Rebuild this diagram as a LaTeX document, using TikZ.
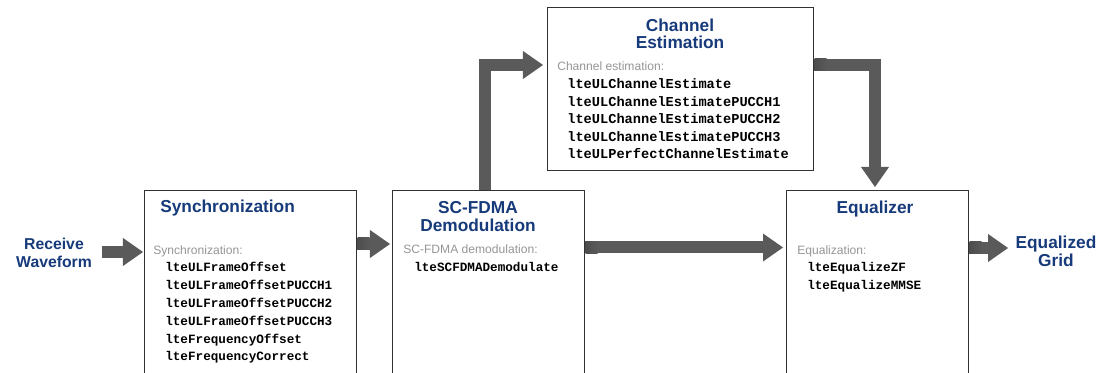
\documentclass[tikz,border=0pt]{standalone}
\usepackage{fontspec}
\setmainfont{Liberation Sans}
\setmonofont{Liberation Mono}
\usetikzlibrary{arrows.meta,calc}

\definecolor{titleblue}{RGB}{22,58,122}
\definecolor{arrowgray}{RGB}{90,90,90}
\definecolor{labelgray}{RGB}{150,150,150}
\definecolor{boxline}{RGB}{50,50,50}

\tikzset{
  block/.style={draw=boxline, line width=0.7pt, fill=white, anchor=north west, inner sep=0},
  title/.style={font=\fontsize{12.3}{12.4}\selectfont\bfseries, text=titleblue, align=center, inner sep=0},
  fnlabel/.style={font=\fontsize{8.6}{10}\selectfont, text=labelgray, anchor=base west, inner sep=0},
  fname/.style={font=\ttfamily\bfseries\fontsize{9}{11}\selectfont, anchor=base west, inner sep=0},
  bigarrow/.style={draw=arrowgray, line width=0.3cm, line join=miter,
    -{Triangle[length=0.5cm,width=0.7cm,line width=0pt]}},
  shadow/.style={left color=black!70, right color=arrowgray}
}

\begin{document}
\begin{tikzpicture}[x=0.025cm,y=-0.025cm]
\useasboundingbox (0,0) rectangle (1100,373);
\clip (0,0) rectangle (1100,373);

% blocks
\node[block, minimum width=5.3cm, minimum height=5cm] (sync) at (144,190) {};
\node[block, minimum width=4.8cm, minimum height=5cm] (demod) at (392,190) {};
\node[block, minimum width=6.65cm, minimum height=4.075cm] (chest) at (547,7) {};
\node[block, minimum width=4.55cm, minimum height=5cm] (eq) at (786,190) {};

% input and output
\node[title, font=\fontsize{11.2}{12.4}\selectfont\bfseries] (rxwave) at (54,253) {Receive\\Waveform};
\node[title] (eqgrid) at (1056,251.5) {Equalized\\Grid};

% synchronization
\node[title, anchor=base west] (sync-title) at (160,213) {Synchronization};
\node[fnlabel] (sync-label) at (153,255) {Synchronization:};
\foreach \fn [count=\i] in {lteULFrameOffset,lteULFrameOffsetPUCCH1,lteULFrameOffsetPUCCH2,lteULFrameOffsetPUCCH3,lteFrequencyOffset,lteFrequencyCorrect}
  \node[fname] (sync-\i) at (165,{272+17.8*(\i-1)}) {\fn};

% sc-fdma demodulation
\node[title] (demod-title) at (478,216.5) {SC-FDMA\\Demodulation};
\node[fnlabel] (demod-label) at (403,254) {SC-FDMA demodulation:};
\node[fname] (demod-1) at (414,272) {lteSCFDMADemodulate};

% channel estimation
\node[title] (chest-title) at (680,34) {Channel\\Estimation};
\node[fnlabel] (chest-label) at (557,71) {Channel estimation:};
\foreach \fn [count=\i] in {lteULChannelEstimate,lteULChannelEstimatePUCCH1,lteULChannelEstimatePUCCH2,lteULChannelEstimatePUCCH3,lteULPerfectChannelEstimate}
  \node[fname, scale=1.08] (chest-\i) at (567,{89+17.5*(\i-1)}) {\fn};

% equalizer
\node[title, anchor=base] (eq-title) at (875,214) {Equalizer};
\node[fnlabel] (eq-label) at (797,255) {Equalization:};
\node[fname] (eq-1) at (807,272) {lteEqualizeZF};
\node[fname] (eq-2) at (807,290) {lteEqualizeMMSE};

% connectors
\draw[bigarrow] ($(rxwave.east)+(10,-1)$) -- ($(rxwave.east -| sync.west)+(-1,-1)$);
\draw[bigarrow] ($(sync.north east)+(0,54)$) -- ($(demod.north west)+(-2,54)$);
\draw[bigarrow] ($(demod.north east)+(0,57.5)$) -- ($(eq.north west)+(-3,57.5)$);
\draw[bigarrow] ($(eq.north east)+(0,58)$) -- ($(eq.north east)+(39,58)$);
\draw[bigarrow] ($(demod.north west)+(93,0)$) |- ($(chest.north west)+(-4,58)$);
\draw[bigarrow] ($(chest.north east)+(0,58)$) -| ($(eq.north west)+(89,-3)$);

% darker start of the arrows leaving a block
\shade[shadow] ($(sync.north east)+(0.5,48)$) rectangle ++(12,12);
\shade[shadow] ($(demod.north east)+(0.5,51.5)$) rectangle ++(12,12);
\shade[shadow] ($(eq.north east)+(0.5,52)$) rectangle ++(12,12);
\shade[shadow] ($(chest.north east)+(0.5,52)$) rectangle ++(12,12);
\end{tikzpicture}
\end{document}
